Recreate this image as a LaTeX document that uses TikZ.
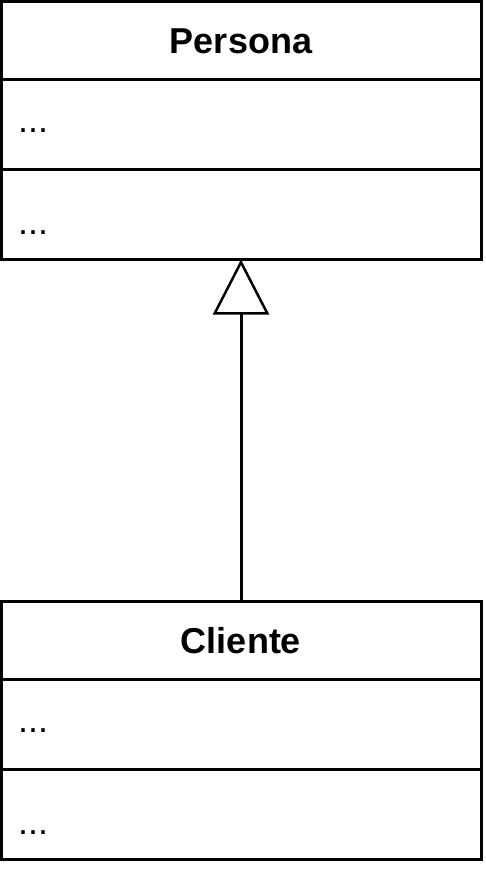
\documentclass[tikz,border=0pt]{standalone}
\usepackage{fontspec}
\setmainfont{Liberation Sans}
\usetikzlibrary{arrows.meta}
\begin{document}
\begin{tikzpicture}[x=1pt,y=-1pt,
  box/.style={draw=black,line width=3pt,fill=white},
  divider/.style={line width=3pt},
  title/.style={font=\fontsize{36}{40}\selectfont\bfseries,anchor=center},
  member/.style={font=\fontsize{36}{40}\selectfont,anchor=base west,inner sep=0pt}]
\useasboundingbox (0,0) rectangle (486,870);
% Persona
\draw[box] (1.5,1.5) rectangle (481,259);
\draw[divider] (1.5,79) -- (481,79);
\draw[divider] (1.5,169) -- (481,169);
\node[title] (persona) at (241,41) {Persona};
\node[member] (pa) at (18,132) {...};
\node[member] (pm) at (18,234) {...};
% Cliente
\draw[box] (1.5,601) rectangle (481,859);
\draw[divider] (1.5,679) -- (481,679);
\draw[divider] (1.5,769) -- (481,769);
\node[title] (cliente) at (241,641) {Cliente};
\node[member] (ca) at (18,732) {...};
\node[member] (cm) at (18,834) {...};
\coordinate (top) at (241,259.5);
\coordinate (bot) at (241,600);
\draw[line width=3pt,-{Triangle[open,length=55pt,width=56pt,line width=2.5pt]}] (bot) -- (top);
\end{tikzpicture}
\end{document}
